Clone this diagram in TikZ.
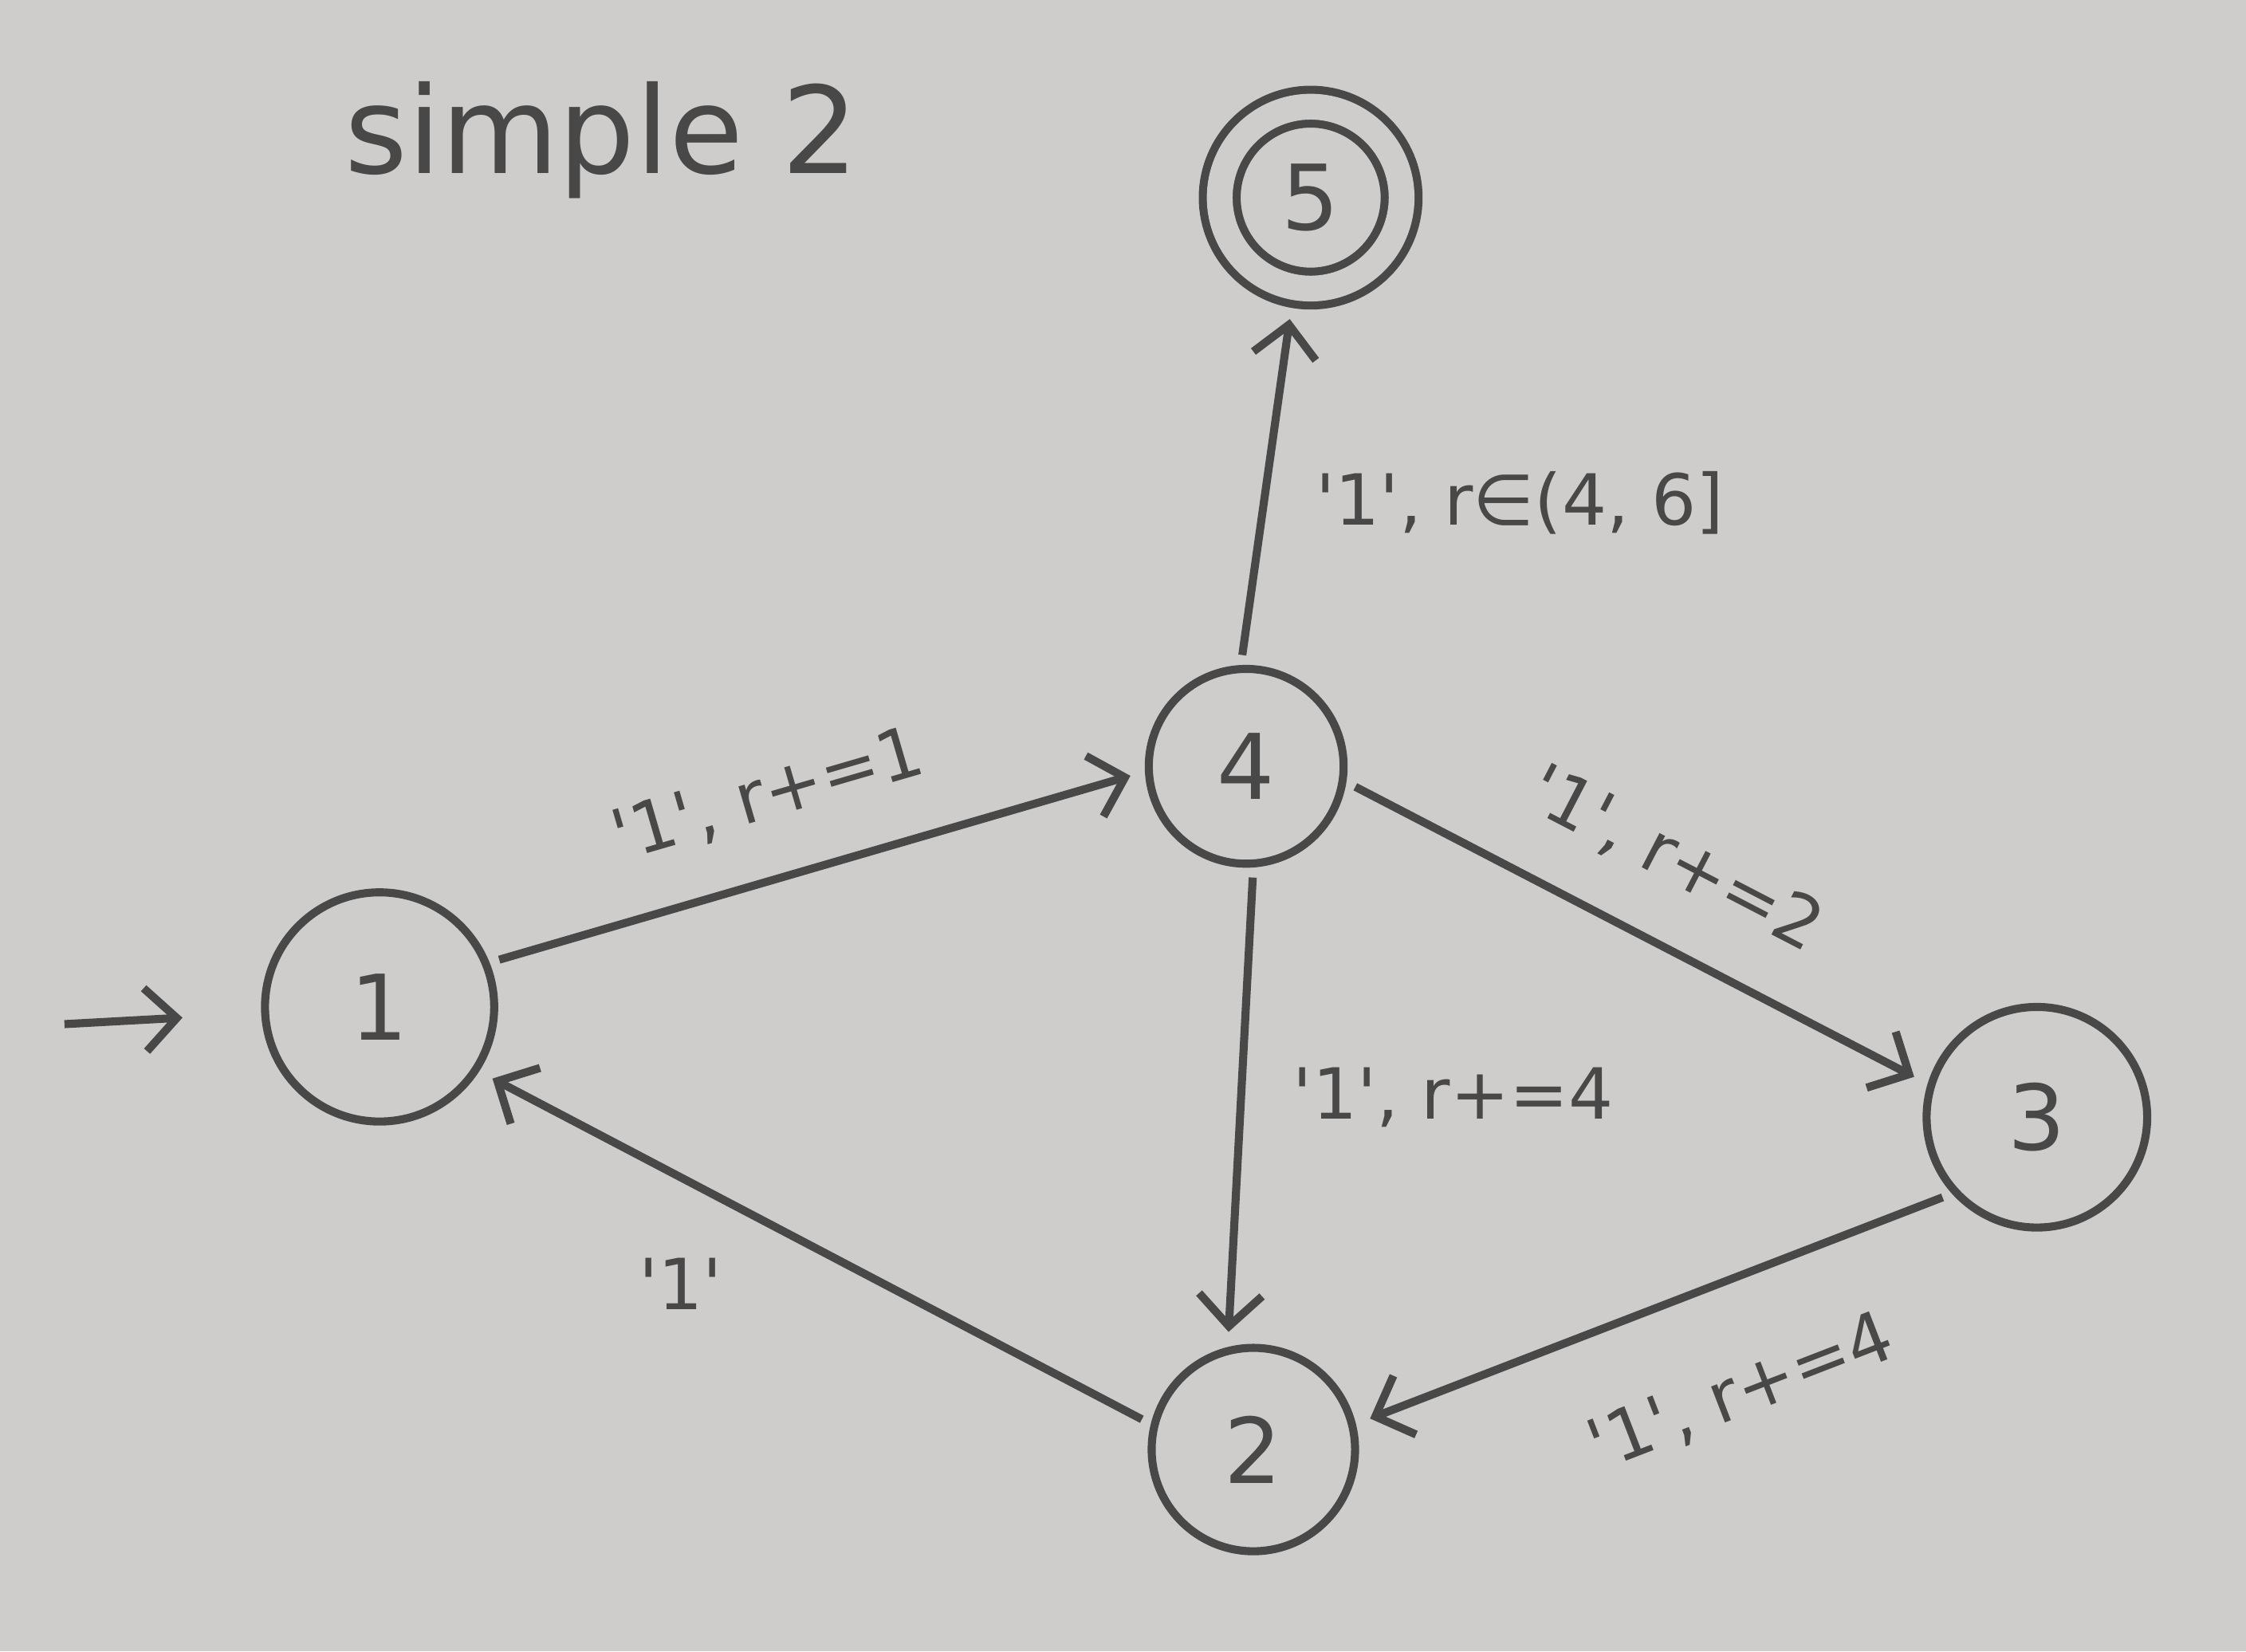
\documentclass[tikz,border=0pt]{standalone}
\usepackage{fontspec}
\setmainfont{DejaVu Sans}
\usetikzlibrary{arrows.meta}
\definecolor{paper}{RGB}{206,205,203}
\definecolor{ink}{RGB}{72,72,72}
\newcommand{\sym}[1]{\textquotesingle#1\textquotesingle}
\begin{document}
\begin{tikzpicture}[ink,line width=1.6pt,>={Straight Barb[length=2.2mm,width=4.4mm]},
  state/.style={draw,circle,inner sep=0pt,minimum size=#1,font=\fontsize{18}{20}\selectfont},
  trans/.style={->,shorten <=2pt,shorten >=3pt},
  lbl/.style={font=\fontsize{14}{16}\selectfont,inner sep=1pt}]
\fill[paper] (0,0) rectangle (15.68,11.53);
\useasboundingbox (0,0) rectangle (15.68,11.53);
\node[font=\fontsize{24}{26}\selectfont] (title) at (4.2,10.55) {simple 2};
% states
\node[state=1.6cm] (s1) at (2.65,4.50) {1};
\node[state=1.36cm] (s4) at (8.70,6.18) {4};
\node[state=1.27cm,double=paper,double distance=0.18cm,outer sep=0.12cm] (s5) at (9.15,10.15) {5};
\node[state=1.54cm] (s3) at (14.22,3.73) {3};
\node[state=1.42cm] (s2) at (8.75,1.41) {2};
% start
\coordinate (start) at (0.45,4.38);
\draw[->,shorten >=0.55cm] (start) -- (s1);
% transitions
\draw[trans] (s1.22) -- node[lbl,sloped,above=3mm,pos=0.46] {\sym{1}, r+=1} (s4.183);
\draw[trans] (s4.93) -- node[lbl,right=3mm,pos=0.45] {\sym{1}, r∈(4, 6]} (s5.260);
\draw[trans] (s4.351) -- node[lbl,sloped,above=3mm,pos=0.5] {\sym{1}, r+=2} (s3.163);
\draw[trans] (s4.274) -- node[lbl,right=3mm,pos=0.48] {\sym{1}, r+=4} (s2.104);
\draw[trans] (s3.222) -- node[lbl,sloped,below=5mm,pos=0.42] {\sym{1}, r+=4} (s2.14);
\draw[trans] (s2.166) -- node[lbl,below=5mm,pos=0.7] {\sym{1}} (s1.327);
\end{tikzpicture}
\end{document}
